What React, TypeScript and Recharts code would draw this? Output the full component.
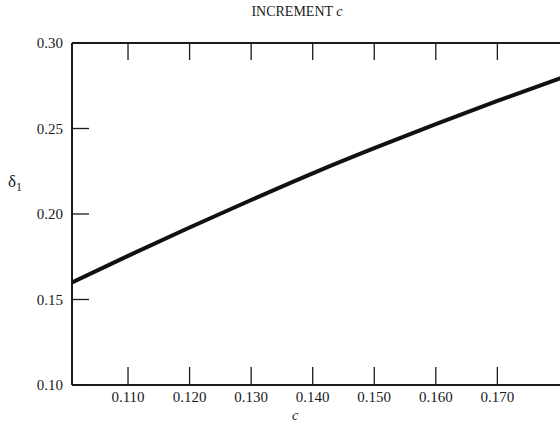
import React from "react";
import { LineChart, Line, XAxis, YAxis } from "recharts";

// c values (x) and delta_1 readings (y)
const cValues = [0.1009, 0.11, 0.12, 0.13, 0.14, 0.15, 0.16, 0.17, 0.1805];
const deltaValues = [0.16, 0.1755, 0.1921, 0.2082, 0.2238, 0.2385, 0.2525, 0.2661, 0.2798];

const xTicks = [0.11, 0.12, 0.13, 0.14, 0.15, 0.16, 0.17];
const yTicks = [0.1, 0.15, 0.2, 0.25, 0.3];

const data = cValues.map((c, i) => ({ c, delta: deltaValues[i] }));

const font = "'Liberation Serif', 'Times New Roman', serif";
const ink = "#1a1a1a";
const noLabel = () => "";

const XTick = (props: any) => {
  const { x, y, payload } = props;
  return (
    <text
      x={x}
      y={y + 12}
      textAnchor="middle"
      fontFamily={font}
      fontSize={15}
      fill={ink}
    >
      {payload.value.toFixed(3)}
    </text>
  );
};

const YTick = (props: any) => {
  const { x, y, payload } = props;
  return (
    <text
      x={x}
      y={y + 5}
      textAnchor="end"
      fontFamily={font}
      fontSize={15}
      fill={ink}
    >
      {payload.value.toFixed(2)}
    </text>
  );
};

const App = () => {
  return (
    <div
      style={{
        position: "absolute",
        left: 0,
        top: 0,
        width: 560,
        height: 430,
        overflow: "hidden",
        background: "#fff",
        fontFamily: font,
        color: ink,
      }}
    >
      <LineChart
        width={572}
        height={430}
        data={data}
        margin={{ top: 0, right: 0, bottom: 0, left: 0 }}
      >
        <XAxis
          xAxisId="bottom"
          dataKey="c"
          type="number"
          domain={[0.1009, 0.1805]}
          allowDataOverflow
          ticks={xTicks}
          height={45}
          tick={<XTick />}
          tickSize={-18}
          tickMargin={23}
          axisLine={{ stroke: ink, strokeWidth: 2 }}
          tickLine={{ stroke: ink, strokeWidth: 1.3 }}
        />
        <XAxis
          xAxisId="top"
          orientation="top"
          dataKey="c"
          type="number"
          domain={[0.1009, 0.1805]}
          allowDataOverflow
          ticks={xTicks}
          tickFormatter={noLabel}
          height={43}
          tickSize={-17}
          axisLine={{ stroke: ink, strokeWidth: 2 }}
          tickLine={{ stroke: ink, strokeWidth: 1.3 }}
        />
        <YAxis
          yAxisId="left"
          type="number"
          domain={[0.1, 0.3]}
          ticks={yTicks}
          width={72}
          tick={<YTick />}
          tickSize={-17}
          tickMargin={26}
          axisLine={{ stroke: ink, strokeWidth: 2 }}
          tickLine={{ stroke: ink, strokeWidth: 1.3 }}
        />
        <YAxis
          yAxisId="right"
          orientation="right"
          type="number"
          domain={[0.1, 0.3]}
          ticks={yTicks}
          tickFormatter={noLabel}
          width={10}
          tickSize={-17}
          axisLine={{ stroke: ink, strokeWidth: 2 }}
          tickLine={{ stroke: ink, strokeWidth: 1.3 }}
        />
        <Line
          xAxisId="bottom"
          yAxisId="left"
          dataKey="delta"
          type="monotone"
          stroke="#111"
          strokeWidth={4}
          dot={false}
          isAnimationActive={false}
        />
      </LineChart>
      <div
        style={{
          position: "absolute",
          left: 0,
          width: 594,
          top: 4,
          textAlign: "center",
          fontSize: 14,
        }}
      >
        INCREMENT <i>c</i>
      </div>
      <div style={{ position: "absolute", left: 8, top: 172, fontSize: 17 }}>
        δ<sub style={{ fontSize: 12 }}>1</sub>
      </div>
      <div
        style={{
          position: "absolute",
          left: 292,
          top: 408,
          fontSize: 14,
          fontStyle: "italic",
        }}
      >
        c
      </div>
    </div>
  );
};

export default App;
